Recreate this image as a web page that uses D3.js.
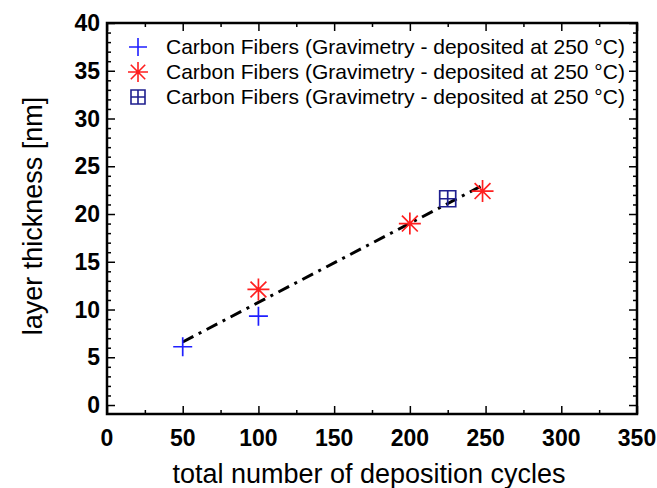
<!DOCTYPE html>
<html>
<head>
<meta charset="utf-8">
<script src="https://cdn.jsdelivr.net/npm/d3@7"></script>
<style>
  body { margin: 0; background: #fff; }
  text { font-family: "Liberation Sans", Arial, sans-serif; }
</style>
</head>
<body>
<div id="chart"></div>
<script>
// data
var plusX = [50, 100];
var plusY = [6.1, 9.3];
var starX = [100, 200, 248];
var starY = [12.1, 19.0, 22.4];
var boxX = [225];
var boxY = [21.6];
var fitX = [50, 248];
var fitY = [6.6, 23.0];
var xTicks = [0, 50, 100, 150, 200, 250, 300, 350];
var yTicks = [0, 5, 10, 15, 20, 25, 30, 35, 40];
var legendLabels = [
  "Carbon Fibers (Gravimetry - deposited at 250 \u00B0C)",
  "Carbon Fibers (Gravimetry - deposited at 250 \u00B0C)",
  "Carbon Fibers (Gravimetry - deposited at 250 \u00B0C)"
];

var w = 657, h = 488;
var pLeft = 107, pRight = 637, pTop = 23, pBottom = 414;

var svg = d3.select("#chart").append("svg")
  .attr("width", w).attr("height", h);

var x = d3.scaleLinear().domain([0, 350]).range([pLeft, pRight]);
var y = d3.scaleLinear().domain([-0.94, 40]).range([pBottom, pTop]);

// minor + major ticks, all pointing inside the frame
var xMinor = d3.range(0, 351, 25);
var yMinor = d3.range(0, 41, 1);

function addAxis(axis, tr) {
  var g = svg.append("g").attr("transform", tr).call(axis);
  g.select(".domain").remove();
  g.selectAll("text").remove();
  g.selectAll("line").attr("stroke", "#000").attr("stroke-width", 1.5);
  return g;
}

var bx = addAxis(d3.axisTop(x).tickValues(xMinor).tickSize(0), "translate(0," + pBottom + ")");
bx.selectAll(".tick line").attr("y2", function(d) { return d % 50 === 0 ? -8 : -4; });
var tx = addAxis(d3.axisBottom(x).tickValues(xMinor).tickSize(0), "translate(0," + pTop + ")");
tx.selectAll(".tick line").attr("y2", function(d) { return d % 50 === 0 ? 8 : 4; });

var ly = addAxis(d3.axisRight(y).tickValues(yMinor).tickSize(0), "translate(" + pLeft + ",0)");
ly.selectAll(".tick line").attr("x2", function(d) { return d % 5 === 0 ? 8 : 4; });
var ry = addAxis(d3.axisLeft(y).tickValues(yMinor).tickSize(0), "translate(" + pRight + ",0)");
ry.selectAll(".tick line").attr("x2", function(d) { return d % 5 === 0 ? -8 : -4; });

// tick labels
svg.append("g").selectAll("text").data(xTicks).enter().append("text")
  .attr("x", function(d) { return x(d); }).attr("y", 446)
  .attr("text-anchor", "middle").attr("font-size", 23).attr("font-weight", "bold")
  .text(function(d) { return d; });

svg.append("g").selectAll("text").data(yTicks).enter().append("text")
  .attr("x", 100).attr("y", function(d) { return y(d) + 8; })
  .attr("text-anchor", "end").attr("font-size", 23).attr("font-weight", "bold")
  .text(function(d) { return d; });

// frame
svg.append("rect").attr("x", pLeft).attr("y", pTop)
  .attr("width", pRight - pLeft).attr("height", pBottom - pTop)
  .attr("fill", "none").attr("stroke", "#000").attr("stroke-width", 2.5);

// axis titles
svg.append("text").attr("x", 369).attr("y", 483)
  .attr("text-anchor", "middle").attr("font-size", 27)
  .text("total number of deposition cycles");
svg.append("text").attr("transform", "translate(42," + 216 + ") rotate(-90)")
  .attr("text-anchor", "middle").attr("font-size", 27)
  .text("layer thickness [nm]");

// fit line
svg.append("line")
  .attr("x1", x(fitX[0])).attr("y1", y(fitY[0]))
  .attr("x2", x(fitX[1])).attr("y2", y(fitY[1]))
  .attr("stroke", "#000").attr("stroke-width", 3)
  .attr("stroke-dasharray", "12,6,3,6");

// markers
var blue = "#1f1fff", red = "#ff1f1f", navy = "#1f1f8f";

function plusPath(s) { return "M" + (-s) + ",0H" + s + "M0," + (-s) + "V" + s; }
function starPath(s) {
  var d = s * 0.72;
  return plusPath(s) + "M" + (-d) + "," + (-d) + "L" + d + "," + d + "M" + (-d) + "," + d + "L" + d + "," + (-d);
}
function boxPath(s) {
  return "M" + (-s) + "," + (-s) + "H" + s + "V" + s + "H" + (-s) + "Z" + plusPath(s);
}

function drawMarks(xs, ys, pathFn, size, color) {
  svg.append("g").selectAll("path").data(xs).enter().append("path")
    .attr("transform", function(d, i) { return "translate(" + x(d) + "," + y(ys[i]) + ")"; })
    .attr("d", pathFn(size))
    .attr("fill", "none").attr("stroke", color).attr("stroke-width", 1.7);
}
drawMarks(plusX, plusY, plusPath, 9.5, blue);
drawMarks(starX, starY, starPath, 11, red);
drawMarks(boxX, boxY, boxPath, 8, navy);

// legend
var legFns = [[plusPath, 9, blue], [starPath, 10, red], [boxPath, 7, navy]];
var leg = svg.append("g");
legendLabels.forEach(function(lbl, i) {
  var ly0 = 47 + i * 25;
  leg.append("path").attr("transform", "translate(138," + ly0 + ")")
    .attr("d", legFns[i][0](legFns[i][1]))
    .attr("fill", "none").attr("stroke", legFns[i][2]).attr("stroke-width", 1.6);
  leg.append("text").attr("x", 166).attr("y", ly0 + 7)
    .attr("font-size", 21).text(lbl);
});
</script>
</body>
</html>
